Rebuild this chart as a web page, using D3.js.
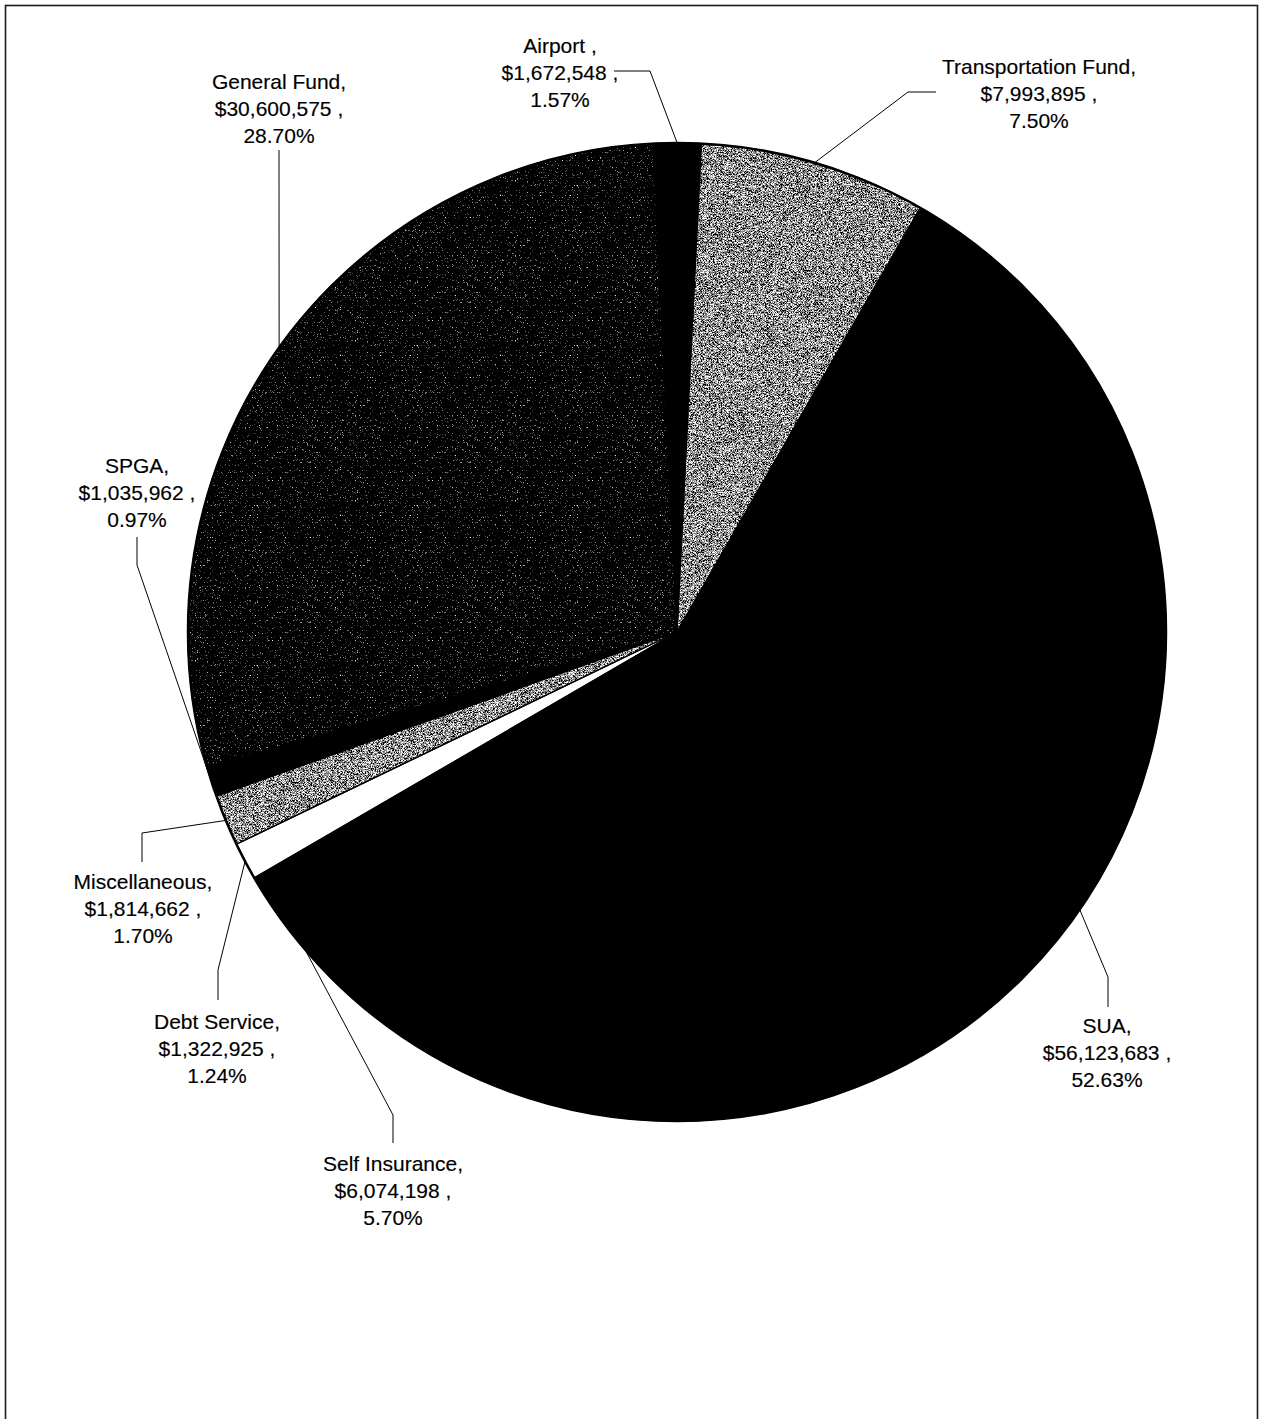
<!DOCTYPE html>
<html>
<head>
<meta charset="utf-8">
<script src="https://cdn.jsdelivr.net/npm/d3@7"></script>
<style>
  html, body { margin: 0; padding: 0; background: #fff; }
  svg { display: block; }
  text { font-family: "Liberation Sans", Arial, sans-serif; font-size: 21px; fill: #000; stroke: #000; stroke-width: 0.15px; }
</style>
</head>
<body>
<svg id="chart" width="1261" height="1419"></svg>
<script>
// Fund budgets, in slice order (clockwise from the top)
const categories = ["Airport ", "Transportation Fund", "SUA", "Self Insurance",
                    "Debt Service", "Miscellaneous", "SPGA", "General Fund"];
const amounts = [1672548, 7993895, 56123683, 6074198, 1322925, 1814662, 1035962, 30600575];

// Fill treatment for each fund
const sliceFill = {
  "Airport ": "black",
  "Transportation Fund": "grain",
  "SUA": "black",
  "Self Insurance": "black",
  "Debt Service": "white",
  "Miscellaneous": "grain",
  "SPGA": "black",
  "General Fund": "dark"
};

// Label placement: centre of the first text line and the leader-line elbows
const labelLayout = {
  "Airport ":            { x: 560,  y: 45,   leader: [[650, 71], [614, 71]] },
  "Transportation Fund": { x: 1039, y: 66,   leader: [[908, 92], [936, 92]] },
  "SUA":                 { x: 1107, y: 1025, leader: [[1108, 977], [1108, 1007]] },
  "Self Insurance":      { x: 393,  y: 1163, leader: [[393, 1115], [393, 1143]] },
  "Debt Service":        { x: 217,  y: 1021, leader: [[218, 970], [218, 1000]] },
  "Miscellaneous":       { x: 143,  y: 881,  leader: [[142, 833], [142, 862]] },
  "SPGA":                { x: 137,  y: 465,  leader: [[137, 565], [137, 537]] },
  "General Fund":        { x: 279,  y: 81,   leader: [[279, 150]] }
};

const cx = 677, cy = 632, R = 489;
const lineGap = 27;

const svg = d3.select("#chart");
const defs = svg.append("defs");

// Speckled grain for the halftone-like fills
function grainFilter(id, freq, gain, offset, seed) {
  const f = defs.append("filter").attr("id", id)
    .attr("x", "0").attr("y", "0").attr("width", "1").attr("height", "1")
    .attr("color-interpolation-filters", "sRGB");
  f.append("feTurbulence").attr("type", "fractalNoise")
    .attr("baseFrequency", freq).attr("numOctaves", 1).attr("seed", seed).attr("result", "n");
  f.append("feColorMatrix").attr("in", "n").attr("type", "matrix")
    .attr("values", `${gain} 0 0 0 ${offset}  ${gain} 0 0 0 ${offset}  ${gain} 0 0 0 ${offset}  0 0 0 0 1`)
    .attr("result", "g");
  f.append("feComposite").attr("in", "g").attr("in2", "SourceAlpha").attr("operator", "in");
}
grainFilter("grainMid", 1.5, 4.5, -1.7, 7);
grainFilter("grainDark", 1.6, 5, -3.12, 11);

// Page frame
svg.append("rect")
  .attr("x", 5.5).attr("y", 5.5).attr("width", 1252).attr("height", 1440)
  .attr("fill", "none").attr("stroke", "#1a1a1a").attr("stroke-width", 1.6);

const data = categories.map((c, i) => ({ name: c, value: amounts[i] }));
const total = d3.sum(amounts);

const startDeg = -2.8;
const pie = d3.pie().sort(null).value(d => d.value)
  .startAngle(startDeg * Math.PI / 180)
  .endAngle(startDeg * Math.PI / 180 + 2 * Math.PI);
const arcs = pie(data);
const arc = d3.arc().innerRadius(0).outerRadius(R);

const g = svg.append("g").attr("transform", `translate(${cx},${cy})`);

// Slice fills
g.selectAll("path.fill").data(arcs).join("path")
  .attr("class", "fill")
  .attr("d", arc)
  .attr("fill", d => sliceFill[d.data.name] === "white" ? "#fff" : "#000")
  .attr("filter", d => {
    const t = sliceFill[d.data.name];
    return t === "grain" ? "url(#grainMid)" : t === "dark" ? "url(#grainDark)" : null;
  });

// Slice outlines
g.selectAll("path.edge").data(arcs).join("path")
  .attr("class", "edge")
  .attr("d", arc)
  .attr("fill", "none")
  .attr("stroke", "#000")
  .attr("stroke-width", 1.3)
  .attr("stroke-linejoin", "round");

g.append("circle").attr("r", R).attr("fill", "none")
  .attr("stroke", "#000").attr("stroke-width", 2.5);

// Leader lines from each slice's outer mid-point, then the three-line labels
const fmtMoney = d3.format(",");
const fmtPct = d3.format(".2%");
const line = d3.line();

arcs.forEach(d => {
  const L = labelLayout[d.data.name];
  const mid = (d.startAngle + d.endAngle) / 2;
  const edge = [cx + R * Math.sin(mid), cy - R * Math.cos(mid)];
  svg.append("path")
    .attr("d", line([edge, ...L.leader]))
    .attr("fill", "none").attr("stroke", "#000").attr("stroke-width", 1);

  const lines = [
    d.data.name + ",",
    "$" + fmtMoney(d.data.value) + " ,",
    fmtPct(d.data.value / total)
  ];
  const t = svg.append("text").attr("text-anchor", "middle");
  lines.forEach((s, i) => {
    t.append("tspan").attr("x", L.x).attr("y", L.y + i * lineGap + 7.5).text(s);
  });
});
</script>
</body>
</html>
